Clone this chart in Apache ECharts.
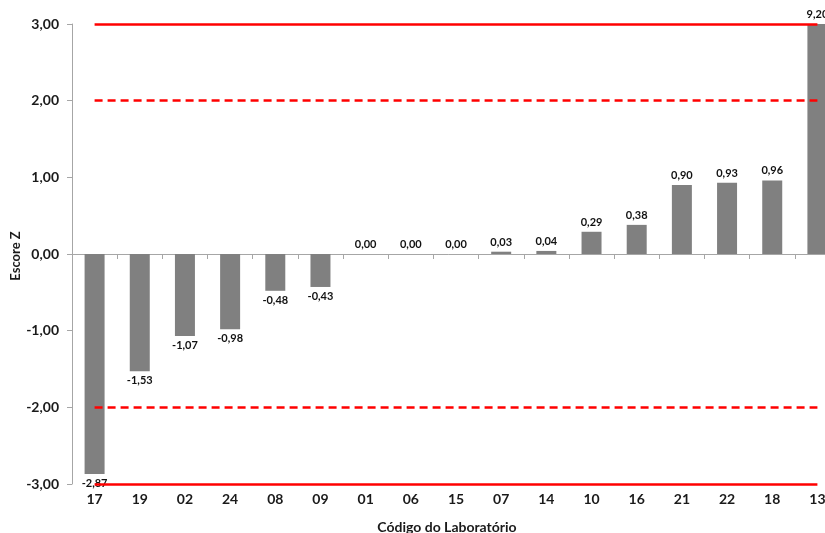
<!DOCTYPE html>
<html>
<head>
<meta charset="utf-8">
<script src="https://cdn.jsdelivr.net/npm/echarts@6/dist/echarts.min.js"></script>
<style>
  html, body { margin: 0; padding: 0; background: #fff; }
  #chart { width: 825px; height: 533px; }
</style>
</head>
<body>
<div id="chart"></div>
<script>
// Laboratory codes, ordered by Z score
const labs = ['17', '19', '02', '24', '08', '09', '01', '06', '15', '07', '14', '10', '16', '21', '22', '18', '13'];
// Z score per laboratory
const zScores = [-2.87, -1.53, -1.07, -0.98, -0.48, -0.43, 0.00, 0.00, 0.00, 0.03, 0.04, 0.29, 0.38, 0.90, 0.93, 0.96, 9.20];
// Y axis range and step
const yMin = -3, yMax = 3, yStep = 1;
// Acceptance limits: solid at |z| = 3, dashed at |z| = 2
const solidLimits = [3, -3];
const dashedLimits = [2, -2];

const fmt = v => v.toFixed(2).replace('.', ',');
const FONT = 'Lato';
const AXIS_GRAY = '#a6a6a6';

const barData = zScores.map(v => ({
  value: v,
  label: { position: v < 0 ? 'bottom' : 'top' }
}));

function limitLine(y, dashed) {
  return [
    { coord: [labs[0], y], lineStyle: { color: '#ff0000', width: 2.5, type: dashed ? [8, 5] : 'solid' } },
    { coord: [labs[labs.length - 1], y] }
  ];
}

const chart = echarts.init(document.getElementById('chart'), null, { renderer: 'canvas' });
chart.setOption({
  animation: false,
  grid: { left: 72, top: 24, width: 768, height: 460, containLabel: false, outerBoundsMode: 'none' },
  // vertical title of the value axis
  graphic: [{
    type: 'text',
    x: 16,
    y: 256,
    rotation: Math.PI / 2,
    style: {
      text: 'Escore Z',
      fontFamily: FONT,
      fontWeight: 'bold',
      fontSize: 13,
      fill: '#1a1a1a',
      align: 'center',
      verticalAlign: 'middle'
    }
  }],
  xAxis: [
    {
      // category labels along the bottom edge
      type: 'category',
      data: labs,
      position: 'bottom',
      axisLine: { show: false, onZero: false },
      axisTick: { show: false },
      axisLabel: { fontFamily: FONT, fontWeight: 'bold', fontSize: 14, color: '#1a1a1a', margin: 8 },
      name: 'Código do Laboratório',
      nameLocation: 'middle',
      nameGap: 36,
      nameTextStyle: { fontFamily: FONT, fontWeight: 'bold', fontSize: 14, color: '#1a1a1a', padding: [0, 18, 0, 0] }
    },
    {
      // baseline at zero with downward ticks between categories
      type: 'category',
      data: labs,
      position: 'top',
      axisLine: { show: true, onZero: true, lineStyle: { color: AXIS_GRAY, width: 1 } },
      axisTick: { show: true, inside: true, length: 5, lineStyle: { color: AXIS_GRAY } },
      axisLabel: { show: false }
    }
  ],
  yAxis: {
    type: 'value',
    min: yMin,
    max: yMax,
    interval: yStep,
    splitLine: { show: false },
    axisLine: { show: true, lineStyle: { color: AXIS_GRAY, width: 1 } },
    axisTick: { show: true, length: 5, lineStyle: { color: AXIS_GRAY } },
    axisLabel: { fontFamily: FONT, fontWeight: 'bold', fontSize: 14, color: '#1a1a1a', margin: 13, formatter: fmt }
  },
  series: [
    {
      type: 'bar',
      xAxisIndex: 0,
      data: barData,
      barWidth: 20,
      clip: true,
      itemStyle: { color: '#808080' },
      label: {
        show: true,
        fontFamily: FONT,
        fontWeight: 'bold',
        fontSize: 11,
        color: '#111',
        distance: 4,
        formatter: p => fmt(p.value)
      },
      markLine: {
        silent: true,
        symbol: ['none', 'none'],
        label: { show: false },
        data: [
          ...solidLimits.map(y => limitLine(y, false)),
          ...dashedLimits.map(y => limitLine(y, true))
        ]
      }
    }
  ]
});
</script>
</body>
</html>
